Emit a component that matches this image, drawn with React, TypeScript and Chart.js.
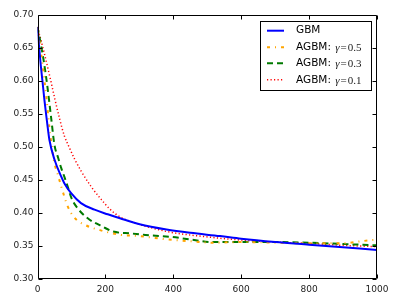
import React, { useEffect, useRef } from "react";
import { Chart, registerables } from "chart.js";

Chart.register(...registerables);

const xTicks = [0, 200, 400, 600, 800, 1000];
const yTicks = [0.3, 0.35, 0.4, 0.45, 0.5, 0.55, 0.6, 0.65, 0.7];

const gbmX = [0, 5, 10, 15, 20, 25, 30, 35, 50, 70, 79, 99, 128, 168, 207, 243, 301, 380, 450, 538, 600, 700, 800, 900, 1000];
const gbmY = [0.682, 0.65, 0.622, 0.598, 0.573, 0.551, 0.53, 0.511, 0.481, 0.455, 0.445, 0.43, 0.415, 0.405, 0.398, 0.392, 0.383, 0.375, 0.37, 0.365, 0.361, 0.356, 0.352, 0.348, 0.344];

const g05X = [0, 10, 20, 27, 35, 41, 45, 50, 60, 70, 79, 89, 109, 140, 184, 243, 301, 380, 458, 516, 600, 700, 800, 900, 950, 1000];
const g05Y = [0.682, 0.645, 0.603, 0.571, 0.53, 0.505, 0.49, 0.475, 0.458, 0.44, 0.425, 0.41, 0.393, 0.382, 0.374, 0.367, 0.365, 0.36, 0.357, 0.355, 0.356, 0.355, 0.354, 0.354, 0.357, 0.36];

const g03X = [0, 10, 20, 30, 40, 50, 60, 70, 79, 89, 99, 114, 148, 193, 222, 277, 310, 390, 449, 516, 600, 700, 800, 900, 1000];
const g03Y = [0.682, 0.655, 0.625, 0.588, 0.545, 0.503, 0.485, 0.468, 0.455, 0.44, 0.424, 0.41, 0.392, 0.379, 0.372, 0.369, 0.367, 0.364, 0.36, 0.356, 0.356, 0.356, 0.355, 0.353, 0.351];

const g01X = [0, 20, 38, 51, 65, 79, 93, 110, 128, 158, 187, 213, 243, 281, 380, 478, 600, 700, 800, 900, 1000];
const g01Y = [0.682, 0.642, 0.603, 0.573, 0.543, 0.517, 0.5, 0.481, 0.464, 0.44, 0.421, 0.406, 0.394, 0.386, 0.372, 0.365, 0.359, 0.356, 0.354, 0.351, 0.349];

const seriesLabels = ["GBM", "AGBM: γ=0.5", "AGBM: γ=0.3", "AGBM: γ=0.1"];
const legendPrefix = ["GBM", "AGBM: ", "AGBM: ", "AGBM: "];
const legendGamma = ["", "0.5", "0.3", "0.1"];

const pts = (xs: number[], ys: number[]) => xs.map((x, i) => ({ x, y: ys[i] }));

const styles = [
  { color: "#0000ff", dash: [] as number[], width: 2 },
  { color: "#ffa500", dash: [3, 5, 1, 5], width: 2 },
  { color: "#007a00", dash: [6, 4], width: 2 },
  { color: "#ff0000", dash: [1.2, 2.3], width: 1.5 },
];

const framePlugin = {
  id: "frameTicks",
  afterDraw(chart: any) {
    const { ctx, chartArea } = chart;
    const { left, right, top, bottom } = chartArea;
    const xs = chart.scales.x;
    const ys = chart.scales.y;
    ctx.save();
    ctx.strokeStyle = "#000";
    ctx.lineWidth = 1;
    ctx.beginPath();
    const L = Math.round(left) + 0.5, R = Math.round(right) - 0.5;
    const T = Math.round(top) + 0.5, B = Math.round(bottom) - 0.5;
    ctx.rect(L, T, R - L, B - T);
    xTicks.forEach((v) => {
      const p = Math.round(xs.getPixelForValue(v)) + 0.5;
      ctx.moveTo(p, B); ctx.lineTo(p, B - 4);
      ctx.moveTo(p, T); ctx.lineTo(p, T + 4);
    });
    yTicks.forEach((v) => {
      const p = Math.round(ys.getPixelForValue(v)) + 0.5;
      ctx.moveTo(L, p); ctx.lineTo(L + 4, p);
      ctx.moveTo(R, p); ctx.lineTo(R - 4, p);
    });
    ctx.stroke();

    // legend
    const bx = 260.5, by = 21.5, bw = 111, bh = 69;
    ctx.fillStyle = "#fff";
    ctx.fillRect(bx, by, bw, bh);
    ctx.strokeStyle = "#000";
    ctx.strokeRect(bx, by, bw, bh);
    const rows = [30.7, 47.2, 63.3, 79.8];
    rows.forEach((ry, i) => {
      const s = styles[i];
      ctx.beginPath();
      ctx.strokeStyle = s.color;
      ctx.lineWidth = s.width;
      ctx.setLineDash(s.dash);
      ctx.moveTo(267, ry);
      ctx.lineTo(284, ry);
      ctx.stroke();
      ctx.setLineDash([]);
      ctx.fillStyle = "#000";
      ctx.textBaseline = "middle";
      ctx.textAlign = "left";
      ctx.font = "10.5px 'DejaVu Sans'";
      let x = 296;
      ctx.fillText(legendPrefix[i], x, ry);
      x += ctx.measureText(legendPrefix[i]).width + 1;
      if (legendGamma[i]) {
        ctx.fillStyle = "#222";
        ctx.font = "italic 11px 'Liberation Serif'";
        ctx.fillText("γ", x, ry + 1);
        x += ctx.measureText("γ").width + 1;
        ctx.font = "11px 'Liberation Serif'";
        ctx.fillText("=", x, ry + 1);
        x += ctx.measureText("=").width + 1;
        ctx.fillText(legendGamma[i], x, ry + 1);
      }
    });
    ctx.restore();
  },
};

export default function App() {
  const ref = useRef<HTMLCanvasElement>(null);
  useEffect(() => {
    const data = [pts(gbmX, gbmY), pts(g05X, g05Y), pts(g03X, g03Y), pts(g01X, g01Y)];
    const chart = new Chart(ref.current as HTMLCanvasElement, {
      type: "line",
      data: {
        datasets: data.map((d, i) => ({
          label: seriesLabels[i],
          data: d,
          borderColor: styles[i].color,
          borderWidth: styles[i].width,
          borderDash: styles[i].dash,
          pointRadius: 0,
          fill: false,
          cubicInterpolationMode: "monotone" as const,
        })),
      },
      options: {
        animation: false,
        responsive: false,
        maintainAspectRatio: false,
        layout: { padding: { left: 0, top: 15, right: 27, bottom: 0 } },
        plugins: { legend: { display: false }, tooltip: { enabled: false } },
        scales: {
          x: {
            type: "linear",
            min: 0,
            max: 1000,
            grid: { display: false, drawTicks: false },
            border: { display: false },
            afterFit: (s: any) => { s.height = 23; },
            afterBuildTicks: (s: any) => { s.ticks = xTicks.map((v) => ({ value: v })); },
            ticks: {
              padding: 5,
              color: "#222",
              font: { family: "'DejaVu Sans'", size: 9 },
              callback: (v: any) => String(v),
              maxRotation: 0,
            },
          },
          y: {
            type: "linear",
            min: 0.3,
            max: 0.7,
            grid: { display: false, drawTicks: false },
            border: { display: false },
            afterFit: (s: any) => { s.width = 37.5; },
            afterBuildTicks: (s: any) => { s.ticks = yTicks.map((v) => ({ value: v })); },
            ticks: {
              padding: 4,
              color: "#222",
              font: { family: "'DejaVu Sans'", size: 9 },
              callback: (v: any) => Number(v).toFixed(2),
            },
          },
        },
      },
      plugins: [framePlugin],
    });
    return () => chart.destroy();
  }, []);
  return (
    <div style={{ position: "absolute", left: 0, top: 0, width: 404, height: 302, background: "#fff" }}>
      <canvas ref={ref} width={404} height={302} style={{ width: 404, height: 302 }} />
    </div>
  );
}
